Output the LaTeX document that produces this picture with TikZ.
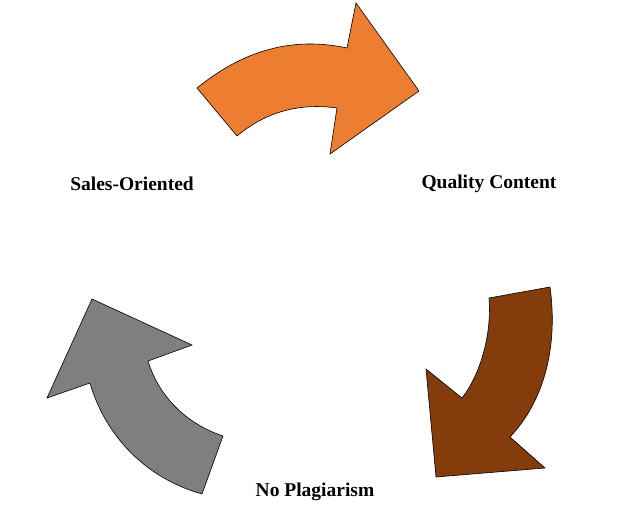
\documentclass[tikz,border=0pt]{standalone}
\usepackage{fontspec}
\setmainfont{Liberation Serif}
\begin{document}
\begin{tikzpicture}[x=1pt,y=-1pt,
  arrowshape/.style={draw=black, line width=0.6pt, line join=miter},
  lbl/.style={font=\fontsize{19.5}{22}\selectfont\bfseries, anchor=base, inner sep=0pt}]
\useasboundingbox (0,0) rectangle (618,510);
% orange arrow
\draw[arrowshape, fill={rgb,255:red,237;green,125;blue,49}]
  (197,88) .. controls (250,45) and (300,38) .. (347,48)
  -- (356,3) -- (419,91) -- (330,154) -- (337,108)
  .. controls (295,102) and (262,115) .. (237,136) -- cycle;
% brown arrow
\draw[arrowshape, fill={rgb,255:red,132;green,60;blue,12}]
  (489,298) -- (550,287)
  .. controls (558,345) and (545,400) .. (510,437)
  -- (545,468) -- (436,477) -- (426,369) -- (462,398)
  .. controls (480,375) and (492,335) .. (489,298) -- cycle;
% gray arrow
\draw[arrowshape, fill={rgb,255:red,127;green,127;blue,127}]
  (92,299) -- (192,345) -- (148,361)
  .. controls (160,400) and (190,425) .. (223,436)
  -- (202,494)
  .. controls (145,478) and (105,435) .. (90,383)
  -- (47,398) -- cycle;
\node[lbl] (sales) at (132,191) {Sales-Oriented};
\node[lbl] (quality) at (489,189) {Quality Content};
\node[lbl] (noplag) at (315,496) {No Plagiarism};
\end{tikzpicture}
\end{document}
